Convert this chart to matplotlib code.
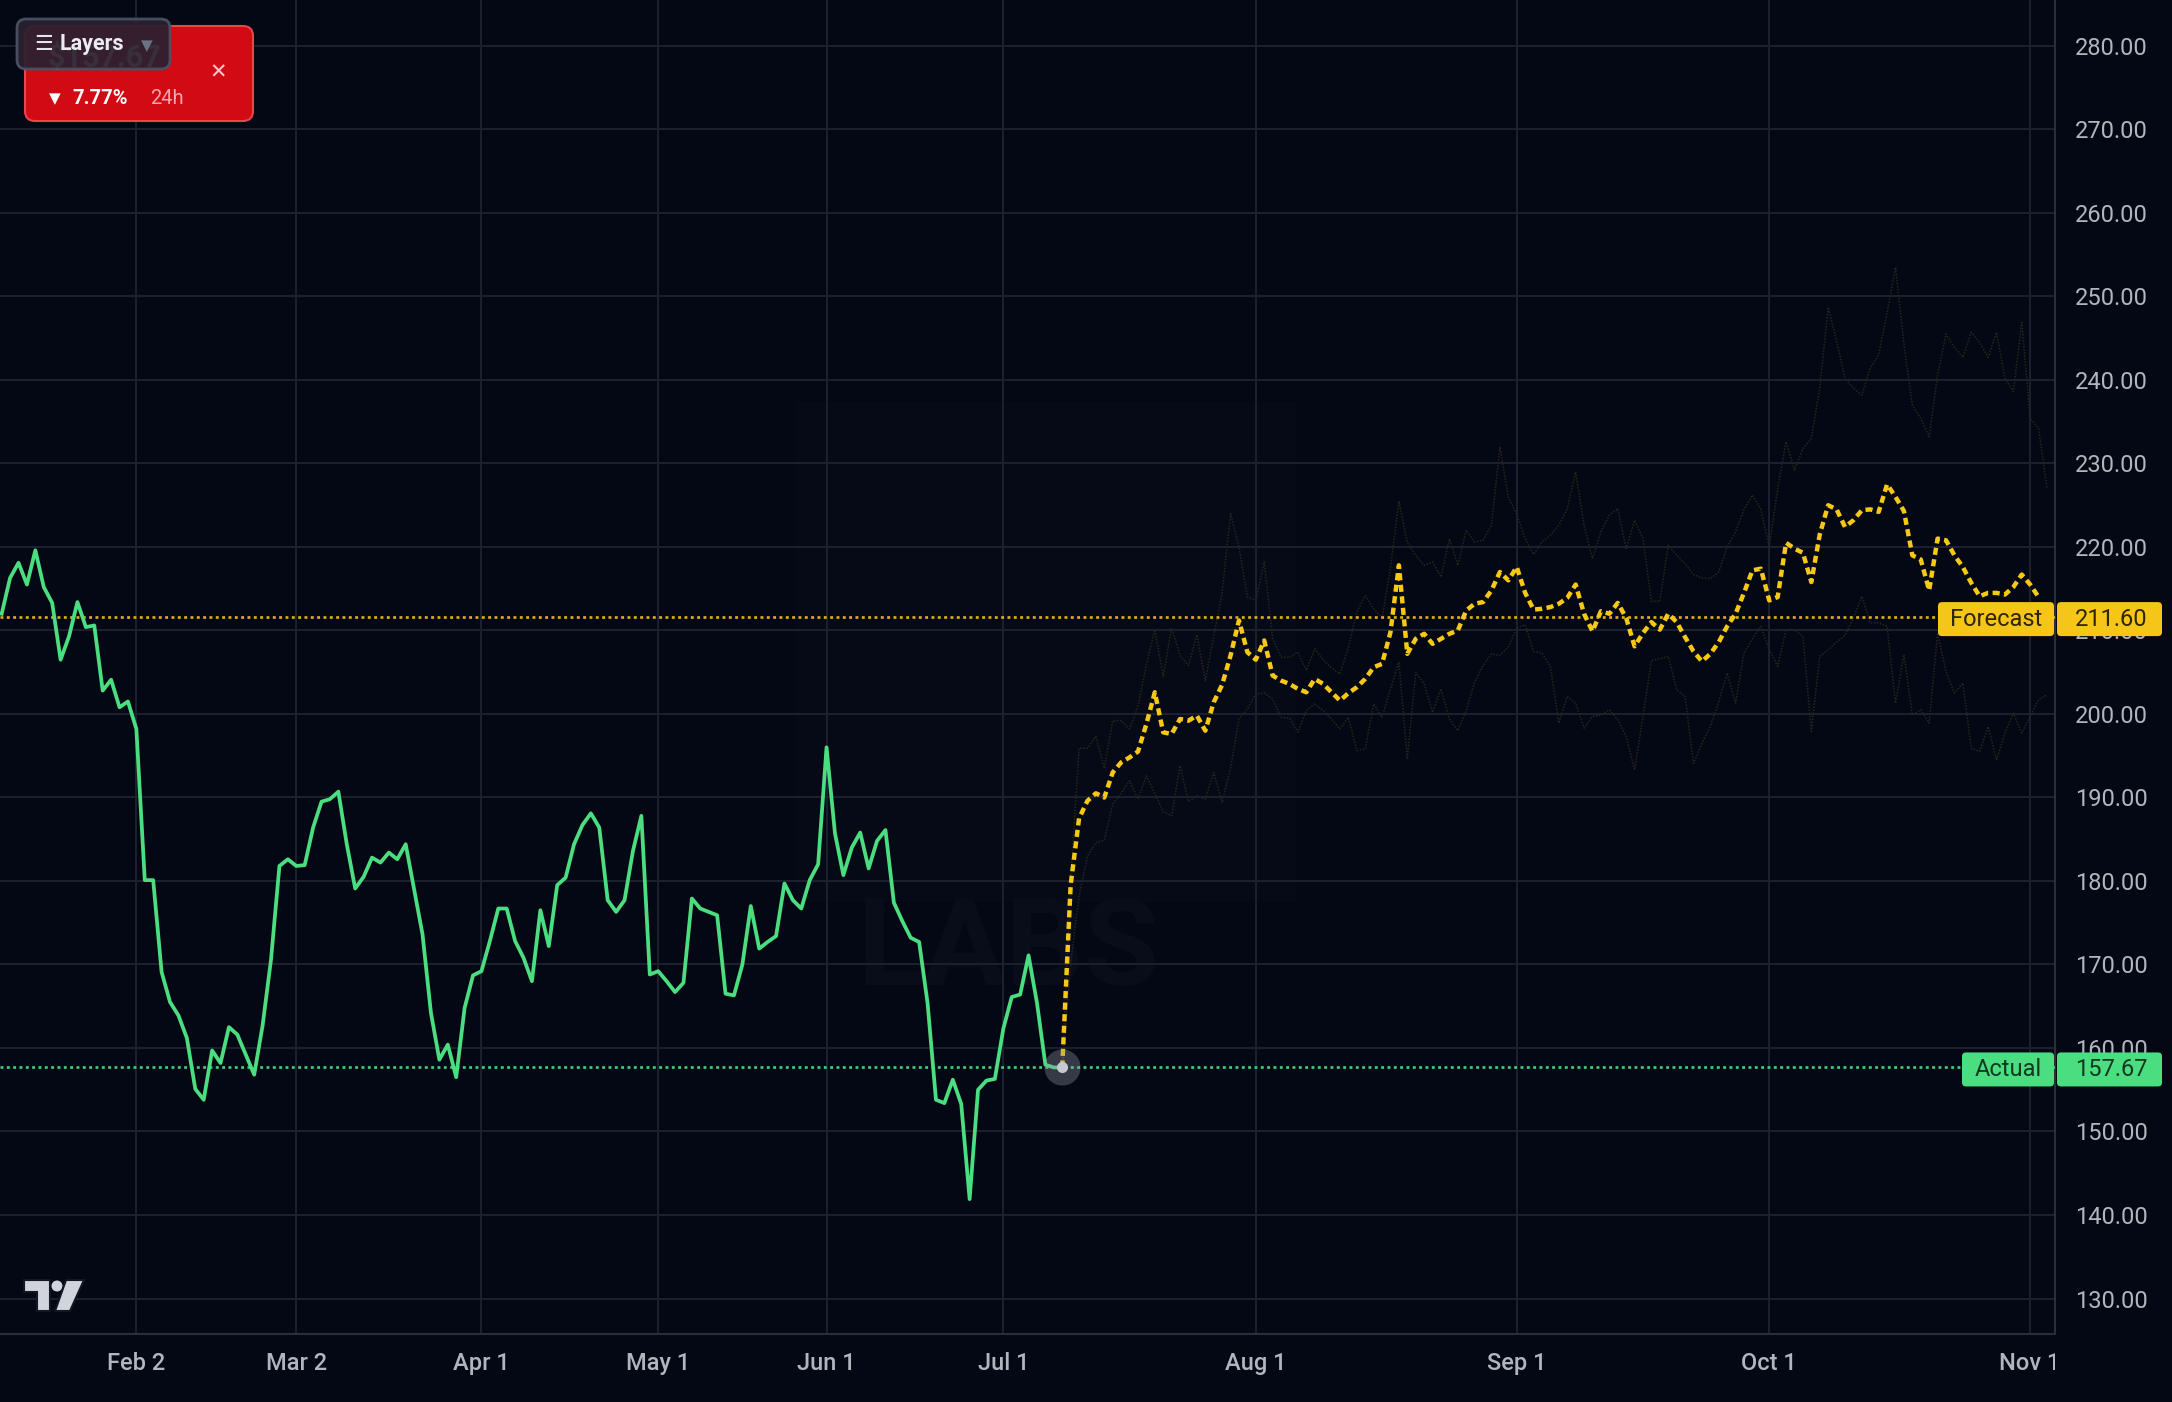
import numpy as np
import matplotlib
matplotlib.use("Agg")
import matplotlib.pyplot as plt
from matplotlib.patches import FancyBboxPatch, Polygon, Rectangle, Circle
from matplotlib.transforms import Affine2D, Bbox

# daily closes (trading days), last one is the current price
actual = [
    212.0, 216.3, 218.1, 215.5, 219.6, 215.2, 213.3, 206.5, 209.3, 213.4,
    210.4, 210.6, 202.8, 204.1, 200.8, 201.5, 198.2, 180.1, 180.1, 169.1,
    165.5, 163.9, 161.2, 155.1, 153.8, 159.7, 158.2, 162.5, 161.6, 159.2,
    156.8, 162.7, 170.6, 181.8, 182.6, 181.8, 181.9, 186.4, 189.5, 189.8,
    190.7, 184.4, 179.1, 180.5, 182.8, 182.2, 183.4, 182.6, 184.4, 179.0,
    173.6, 164.2, 158.6, 160.4, 156.5, 164.8, 168.7, 169.2, 172.8, 176.7,
    176.7, 172.8, 170.8, 168.0, 176.5, 172.2, 179.5, 180.4, 184.4, 186.7,
    188.1, 186.4, 177.7, 176.3, 177.7, 183.6, 187.8, 168.8, 169.2, 168.0,
    166.7, 167.8, 177.9, 176.7, 176.3, 175.9, 166.5, 166.3, 170.0, 177.0,
    171.9, 172.7, 173.4, 179.7, 177.7, 176.7, 180.1, 182.0, 196.0, 185.7,
    180.7, 184.0, 185.8, 181.5, 184.8, 186.1, 177.4, 175.2, 173.2, 172.7,
    165.4, 153.8, 153.4, 156.2, 153.3, 141.9, 155.0, 156.1, 156.3, 162.3,
    166.1, 166.4, 171.1, 165.4, 158.0, 157.67, 157.67,
]

# forecast, one value per calendar day starting at the last close
forecast = [
    157.67, 179.5, 187.5, 189.6, 190.5, 190.0, 193.0, 194.2, 194.8, 195.5,
    198.8, 202.6, 197.8, 197.6, 199.4, 199.2, 199.8, 198.0, 201.4, 203.5,
    207.0, 211.2, 207.4, 206.5, 208.8, 204.6, 204.0, 203.6, 203.0, 202.6,
    204.2, 203.6, 202.6, 201.6, 202.5, 203.2, 204.2, 205.6, 206.0, 209.8,
    217.8, 207.2, 209.0, 209.6, 208.4, 209.0, 209.6, 210.0, 212.4, 213.2,
    213.4, 214.8, 217.0, 216.0, 217.6, 214.5, 212.5, 212.6, 212.8, 213.2,
    213.9, 215.5, 212.0, 209.9, 212.3, 212.0, 213.3, 211.5, 208.1, 209.7,
    211.0, 210.1, 212.0, 211.0, 209.2, 207.5, 206.3, 207.2, 208.6, 210.5,
    212.0, 214.5, 217.2, 217.4, 213.6, 214.0, 220.5, 219.8, 219.3, 215.8,
    221.5, 225.0, 224.5, 222.4, 223.2, 224.4, 224.5, 224.2, 227.5, 226.0,
    224.3, 219.0, 218.5, 214.8, 221.0, 220.8, 219.0, 217.6, 215.7, 214.1,
    214.5, 214.5, 214.3, 215.2, 216.7, 215.5, 214.0,
]

band_upper = [
    157.67, 180.0, 195.9, 195.9, 197.3, 193.5, 199.2, 199.2, 198.2, 200.9,
    205.9, 210.1, 204.5, 210.3, 207.0, 205.8, 209.5, 204.0, 209.3, 214.5,
    224.0, 220.0, 214.0, 213.6, 218.2, 209.0, 206.8, 206.8, 207.4, 205.2,
    207.8, 206.5, 205.5, 204.8, 208.0, 212.2, 214.2, 212.6, 211.5, 217.5,
    225.5, 220.5, 219.0, 217.8, 218.2, 216.4, 221.0, 217.8, 222.0, 220.6,
    220.8, 222.6, 232.0, 226.0, 223.9, 221.0, 219.1, 220.6, 221.4, 222.6,
    224.6, 229.0, 222.6, 218.6, 221.8, 223.8, 224.6, 219.8, 223.2, 221.0,
    213.5, 213.5, 220.2, 219.0, 218.0, 216.7, 216.3, 216.2, 217.0, 220.0,
    221.8, 224.5, 226.2, 224.5, 220.0, 227.0, 232.6, 229.2, 231.8, 233.0,
    239.0, 248.7, 244.7, 240.2, 239.0, 238.2, 241.4, 243.0, 248.0, 253.5,
    244.3, 237.0, 235.4, 233.2, 240.6, 245.5, 243.9, 242.7, 245.7, 244.5,
    242.7, 245.7, 240.2, 238.6, 246.9, 235.4, 234.2, 227.0,
]

band_lower = [
    157.67, 170.0, 178.2, 183.0, 184.6, 184.9, 189.2, 190.5, 192.0, 189.8,
    192.6, 190.5, 188.3, 187.8, 193.8, 189.5, 190.2, 189.8, 193.0, 189.4,
    193.5, 199.4, 200.6, 202.4, 202.5, 201.8, 199.6, 199.5, 197.8, 200.4,
    201.2, 200.4, 199.4, 198.2, 199.6, 195.6, 195.8, 201.2, 199.6, 203.0,
    206.2, 194.6, 205.0, 203.6, 200.2, 203.0, 199.4, 198.0, 200.4, 203.8,
    205.8, 207.2, 207.0, 208.0, 210.3, 210.7, 207.5, 207.3, 205.7, 198.9,
    202.1, 201.3, 198.3, 199.7, 199.9, 200.5, 199.3, 197.3, 193.3, 199.7,
    206.4, 206.6, 206.9, 202.9, 202.1, 194.1, 196.5, 198.5, 201.5, 204.9,
    201.3, 207.3, 209.0, 210.5, 207.7, 205.7, 210.1, 210.1, 209.3, 197.9,
    206.9, 207.7, 208.6, 209.4, 211.5, 214.1, 210.9, 210.9, 210.5, 201.3,
    207.1, 199.9, 200.5, 198.9, 209.7, 205.1, 202.5, 203.7, 195.9, 195.5,
    198.5, 194.5, 197.7, 200.1, 197.7, 199.7, 201.7, 202.3,
]

forecast_level = 211.60
actual_level = 157.67

# bar index of the first bar of each month
month_ticks = [16, 35, 57, 78, 98, 119, 149, 180, 210, 241]
month_labels = ["Feb 2", "Mar 2", "Apr 1", "May 1", "Jun 1", "Jul 1",
                "Aug 1", "Sep 1", "Oct 1", "Nov 1"]
price_ticks = list(range(130, 290, 10))

W, H = 2172, 1402
BG = "#040814"
GRID = "#1c2130"
BORDER = "#2a2e39"
TXT = "#b2b5be"
GREEN = "#4ade80"
YELLOW = "#f7c815"

plt.rcParams["font.family"] = ["Roboto", "DejaVu Sans"]

fig = plt.figure(figsize=(W / 100, H / 100), dpi=100, facecolor=BG)
ax = fig.add_axes([0, 68 / H, 2055 / W, 1334 / H])
ax.set_facecolor(BG)

# pixel coordinates, origin top-left
PX = Affine2D().scale(1, -1).translate(0, H)

# faint watermark
ax.add_patch(Rectangle((796, 402), 500, 500, transform=PX, fc="#060a16", ec="none", zorder=0.5))
ax.text(1008, 952, "LABS", transform=PX, ha="center", va="center", fontsize=88,
        color="#090d19", fontweight="bold", zorder=0.6)

x_act = np.arange(len(actual))
x_fc = x_act[-1] + np.arange(len(forecast))
x_band = x_act[-1] + np.arange(len(band_upper))

ax.plot(x_band, band_upper, color="#27261b", lw=1.1, ls=(0, (1, 1)), zorder=2)
ax.plot(x_band, band_lower, color="#27261b", lw=1.1, ls=(0, (1, 1)), zorder=2)

ax.axhline(forecast_level, color="#e2b20a", lw=1.9, ls=(0, (1.1, 1.3)), zorder=3)
ax.axhline(actual_level, color="#3fcf7a", lw=1.9, ls=(0, (1.1, 1.3)), zorder=3)

ax.plot(x_act, actual, color=GREEN, lw=2.7, solid_joinstyle="round", zorder=4)
ax.plot(x_fc, forecast, color=YELLOW, lw=3.2, ls=(0, (1.6, 1.0)), zorder=5)

ax.plot(x_act[-1], actual[-1], "o", ms=26, color="#9298a4", alpha=0.35, mec="none", zorder=6)
ax.plot(x_act[-1], actual[-1], "o", ms=8, color="#c6c9d1", mec="none", zorder=7)

ax.set_xlim(-0.2, 243.95)
ax.set_ylim(125.75, 285.5)

ax.set_xticks(month_ticks)
ax.set_xticklabels(month_labels)
ax.yaxis.tick_right()
ax.set_yticks(price_ticks)
ax.set_yticklabels([f"{p:.2f}" for p in price_ticks])
ax.tick_params(axis="x", length=0, pad=13, labelsize=17, labelcolor=TXT)
ax.tick_params(axis="y", length=0, pad=67, labelsize=17, labelcolor=TXT)
for t in ax.get_yticklabels():
    t.set_ha("right")
for t in ax.get_xticklabels():
    t.set_fontweight("medium")
    t.set_clip_box(Bbox([[0, 0], [2055, H]]))
    t.set_clip_on(True)

ax.grid(True, color=GRID, lw=1.4)
for side in ["top", "left"]:
    ax.spines[side].set_visible(False)
for side in ["right", "bottom"]:
    ax.spines[side].set_color(BORDER)
    ax.spines[side].set_linewidth(1.5)


def box(x0, y0, x1, y1, fc, ec="none", lw=0, r=4, alpha=1.0, z=10):
    p = FancyBboxPatch((x0, y0), x1 - x0, y1 - y0,
                       boxstyle=f"round,pad=0,rounding_size={r}",
                       transform=PX, fc=fc, ec=ec, lw=lw, alpha=alpha, zorder=z)
    fig.add_artist(p)


def ypix(v):
    return H - ax.transData.transform((0, v))[1]


def tag(v, label, fc, tc, x0):
    yc = ypix(v) + 2
    box(x0, yc - 17, 2054, yc + 17, fc)
    box(2057, yc - 17, 2162, yc + 17, fc)
    fig.text((x0 + 2054) / 2, yc, label, transform=PX, ha="center", va="center",
             color=tc, fontsize=17, zorder=11)
    fig.text(2148, yc, f"{v:.2f}", transform=PX, ha="right", va="center",
             color=tc, fontsize=17, zorder=11)


tag(forecast_level, "Forecast", "#f5c518", "#2e2600", 1938)
tag(actual_level, "Actual", "#4ade80", "#123822", 1962)

# price badge + layers button
box(25, 26, 253, 121, "#d20a14", ec="#e8454d", lw=1.5, r=10, z=12)
fig.text(48, 58, "$157.67", transform=PX, ha="left", va="center", fontsize=22,
         fontweight="bold", color="white", zorder=13)
box(17, 19, 170, 69, "#2b2130", ec="#4b5263", lw=2, r=9, alpha=0.94, z=14)
fig.text(34, 44, "☰", transform=PX, ha="left", va="center", fontsize=15,
         color="#e6e6ea", zorder=15, family=["DejaVu Sans"])
fig.text(60, 44, "Layers", transform=PX, ha="left", va="center", fontsize=15.5,
         fontweight="bold", color="#ececf0", zorder=15)
fig.text(141, 46, "▼", transform=PX, ha="left", va="center", fontsize=11,
         color="#6b7280", zorder=15, family=["DejaVu Sans"])
fig.text(218, 73, "✕", transform=PX, ha="center", va="center", fontsize=15,
         color="#f6c9cd", zorder=13, family=["DejaVu Sans"])
fig.text(49, 99, "▼", transform=PX, ha="left", va="center", fontsize=11,
         color="white", zorder=13, family=["DejaVu Sans"])
fig.text(72, 99, "7.77%", transform=PX, ha="left", va="center", fontsize=14.5,
         fontweight="bold", color="white", zorder=13)
fig.text(150, 99, "24h", transform=PX, ha="left", va="center", fontsize=14.5,
         color="#f4a7ae", zorder=13)

# tradingview mark
logo = "#d1d4dc"
fig.add_artist(Polygon([(24, 1280), (50, 1280), (50, 1311), (37, 1311), (37, 1292), (24, 1292)],
                       closed=True, transform=PX, fc=logo, ec="#131722", lw=1.5, zorder=12))
fig.add_artist(Circle((57, 1286), 5.5, transform=PX, fc=logo, ec="none", zorder=12))
fig.add_artist(Polygon([(66, 1280), (84, 1280), (70, 1311), (55, 1311)],
                       closed=True, transform=PX, fc=logo, ec="#131722", lw=1.5, zorder=12))

fig.savefig("out.png", dpi=100, facecolor=BG)
